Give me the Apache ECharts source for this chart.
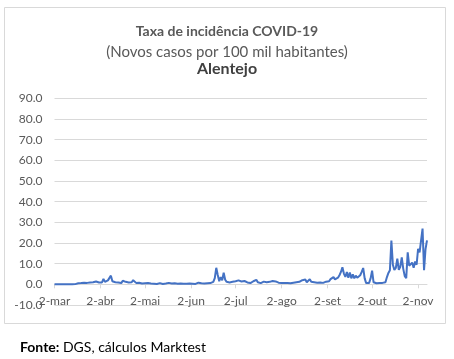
<!DOCTYPE html>
<html>
<head>
<meta charset="utf-8">
<script src="https://cdn.jsdelivr.net/npm/echarts@6/dist/echarts.min.js"></script>
<style>
html,body{margin:0;padding:0;background:#fff;}
#c{width:454px;height:359px;}
</style>
</head>
<body>
<div id="c"></div>
<script>
// Month names and day ranges (first series date 2-mar, last 8-nov)
var monthNames = ['mar','abr','mai','jun','jul','ago','set','out','nov'];
var monthFirstDay = [2,1,1,1,1,1,1,1,1];
var monthLastDay = [31,30,31,30,31,31,30,31,8];

// Daily incidence (new cases per 100k inhabitants), per month
var marValues = [0,0,0,0,0,0,0,0,0,0,0,0,0,0,0.1,0.3,0.5,0.2,0.6,0.4,0.8,1.0,0.7,1.2,0.9,1.3,1.0,0.8,1.4,1.1];
var abrValues = [0.9,1.8,0.9,2.6,1.2,0.7,1.9,1.0,4.2,1.5,2.4,1.0,1.8,0.9,1.4,0.6,1.7,0.8,1.2,0.5,0.9,0.6,1.0,2.0,1.8,0.7,0.5,0.8,1.6,0.4];
var maiValues = [0.6,0.5,0.3,0.6,0.2,0.4,0.8,0.3,0.5,0.2,0.4,0.6,0.3,0.2,0.5,0.4,0.3,0.7,0.2,0.4,0.3,0.5,0.2,0.3,0.6,0.4,0.2,0.3,0.5,0.3,0.2];
var junValues = [0.4,0.6,0.3,0.5,0.2,0.4,0.8,0.3,0.5,0.6,0.4,0.7,0.5,0.9,0.6,1.0,1.2,3.0,8.0,4.5,1.5,3.5,2.0,5.6,2.2,1.2,0.8,0.9,0.7,1.2];
var julValues = [0.8,1.5,0.8,1.9,1.0,1.4,0.7,1.6,1.2,0.9,1.3,0.6,1.1,1.5,0.8,2.2,1.0,1.4,0.6,0.9,1.3,0.5,1.0,1.9,1.2,0.7,1.6,0.9,1.4,2.0,0.8];
var agoValues = [1.1,0.6,0.4,0.7,0.3,0.6,0.9,0.5,1.2,0.8,1.5,1.0,1.8,1.2,0.9,2.0,1.3,2.3,1.0,1.6,2.5,1.2,1.8,1.0,1.5,0.8,1.2,0.9,1.4,0.7,1.0];
var setValues = [1.3,0.9,1.5,2.5,2.0,3.5,2.4,2.9,3.2,4.4,6.0,8.3,5.2,3.6,6.0,3.2,5.7,2.9,4.8,2.9,4.2,3.2,2.5,4.4,6.0,7.9,2.9,0.6,0.5,0.7];
var outValues = [2.9,6.6,1.0,0.8,0.5,0.9,0.6,1.0,0.7,0.9,1.0,3.5,5.5,6.8,21.2,9.5,7.0,8.0,12.4,7.0,8.5,13.0,7.5,4.0,3.0,15.5,9.0,8.4,10.5,8.0,11.0];
var novValues = [9.5,17.2,15.5,16.0,27.0,6.8,17.0,21.3];

// Y axis ticks
var yTicks = [-10,0,10,20,30,40,50,60,70,80,90];

var titleLines = ['Taxa de incidência COVID-19','(Novos casos por 100 mil habitantes)','Alentejo'];
var sourceLabel = 'Fonte:';
var sourceText = ' DGS, cálculos Marktest';

// Build categories and series
var categories = [];
for (var m = 0; m < monthNames.length; m++) {
  for (var d = monthFirstDay[m]; d <= monthLastDay[m]; d++) {
    categories.push(d + '-' + monthNames[m]);
  }
}
var values = [].concat(marValues, abrValues, maiValues, junValues, julValues, agoValues, setValues, outValues, novValues);

var isMonthTick = function (idx, val) { return String(categories[idx]).indexOf('2-') === 0; };

var gridTop = 98.3, gridHeight = 206.7;
var yMin = yTicks[0], yMax = yTicks[yTicks.length - 1];
// offset that places the category axis on the value 0
var zeroOffset = -gridHeight * (0 - yMin) / (yMax - yMin);

var FONT = 'Lato, "Open Sans", sans-serif';
var chart = echarts.init(document.getElementById('c'), null, {renderer: 'canvas'});
chart.setOption({
  animation: false,
  backgroundColor: '#ffffff',
  title: [
    {text: titleLines[0], left: 'center', top: 23, padding: 0,
     textStyle: {fontFamily: FONT, fontSize: 14, fontWeight: 'bold', color: '#595959', lineHeight: 16}},
    {text: titleLines[1], left: 'center', top: 44, padding: 0,
     textStyle: {fontFamily: FONT, fontSize: 15, fontWeight: 'normal', color: '#595959', lineHeight: 16}},
    {text: titleLines[2], left: 'center', top: 59, padding: 0,
     textStyle: {fontFamily: FONT, fontSize: 16, fontWeight: 'bold', color: '#404040', lineHeight: 20}},
    {text: '{b|' + sourceLabel + '}' + sourceText, left: 20, top: 338, padding: 0,
     textStyle: {fontFamily: FONT, fontSize: 14, fontWeight: 'normal', color: '#000000', lineHeight: 18,
       rich: {b: {fontFamily: FONT, fontSize: 14, fontWeight: 'bold', color: '#000000', lineHeight: 18}}}}
  ],
  graphic: [{
    type: 'rect', silent: true, z: -1,
    shape: {x: 4.5, y: 7.5, width: 441, height: 316},
    style: {fill: 'none', stroke: '#d9d9d9', lineWidth: 1}
  }],
  grid: {left: 54.5, right: 27, top: gridTop, height: gridHeight, containLabel: false},
  xAxis: {
    type: 'category',
    data: categories,
    boundaryGap: false,
    position: 'bottom',
    offset: zeroOffset,
    axisLine: {onZero: false, lineStyle: {color: '#d9d9d9', width: 1}},
    axisTick: {show: true, interval: isMonthTick, length: 4, lineStyle: {color: '#d9d9d9'}},
    axisLabel: {interval: isMonthTick, margin: 11, color: '#595959', fontFamily: FONT, fontSize: 12, hideOverlap: false},
    splitLine: {show: false}
  },
  yAxis: {
    type: 'value',
    min: yMin, max: yMax, interval: 10,
    axisLine: {show: false},
    axisTick: {show: false},
    axisLabel: {margin: 12, color: '#595959', fontFamily: FONT, fontSize: 12,
      formatter: function (v) { return v.toFixed(1); }},
    splitLine: {lineStyle: {color: '#d9d9d9', width: 1}}
  },
  series: [{
    type: 'line',
    data: values,
    showSymbol: false,
    symbol: 'none',
    lineStyle: {color: '#4472c4', width: 2},
    itemStyle: {color: '#4472c4'}
  }]
});
</script>
</body>
</html>
